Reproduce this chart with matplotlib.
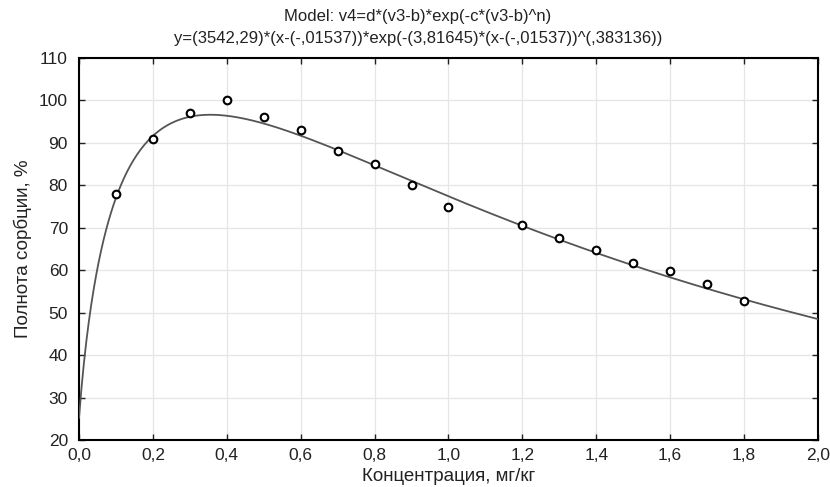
import numpy as np
import matplotlib
matplotlib.use("Agg")
import matplotlib.pyplot as plt

plt.rcParams['font.family'] = ['Liberation Sans', 'DejaVu Sans']

# Observed points
conc = [0.1, 0.2, 0.3, 0.4, 0.5, 0.6, 0.7, 0.8, 0.9, 1.0,
        1.2, 1.3, 1.4, 1.5, 1.6, 1.7, 1.8]
sorption = [78, 91, 97, 100, 96, 93, 88, 85, 80, 75,
            70.7, 67.7, 64.8, 61.6, 59.8, 56.7, 52.7]

# Fitted model parameters
d_par = 3542.29
b_par = -0.01537
c_par = 3.81645
n_par = 0.383136

x_ticks = [0.0, 0.2, 0.4, 0.6, 0.8, 1.0, 1.2, 1.4, 1.6, 1.8, 2.0]
x_tick_labels = ["0,0", "0,2", "0,4", "0,6", "0,8", "1,0", "1,2", "1,4", "1,6", "1,8", "2,0"]
y_ticks = [20, 30, 40, 50, 60, 70, 80, 90, 100, 110]

title_line1 = "Model: v4=d*(v3-b)*exp(-c*(v3-b)^n)"
title_line2 = "y=(3542,29)*(x-(-,01537))*exp(-(3,81645)*(x-(-,01537))^(,383136))"

fig = plt.figure(figsize=(8.3, 4.87), dpi=100)
ax = fig.add_axes([0.0952, 0.0965, 0.8903, 0.7845])

xs = np.linspace(0, 2.0, 600)
ys = d_par * (xs - b_par) * np.exp(-c_par * (xs - b_par) ** n_par)
ax.plot(xs, ys, color='#555555', lw=1.3, zorder=3)
ax.plot(conc, sorption, linestyle='none', marker='o', markersize=5.5,
        markerfacecolor='white', markeredgecolor='black', markeredgewidth=1.5, zorder=4)

ax.set_xlim(0, 2.0)
ax.set_ylim(20, 110)
ax.set_xticks(x_ticks)
ax.set_xticklabels(x_tick_labels)
ax.set_yticks(y_ticks)
ax.grid(True, color='#e6e6e6', lw=0.9, zorder=0)
ax.tick_params(direction='in', top=True, right=True, length=4, width=1,
               labelsize=12.5, colors='#222222')
ax.tick_params(axis='x', pad=6)
ax.tick_params(axis='y', pad=8)
for s in ax.spines.values():
    s.set_linewidth(1.5)
    s.set_color('black')

ax.set_xlabel("Концентрация, мг/кг", fontsize=13.5, labelpad=3, color='#222222')
ax.set_ylabel("Полнота сорбции, %", fontsize=13.5, labelpad=5, color='#222222')

fig.text(418 / 830, 1 - 17 / 487, title_line1, ha='center', va='center', fontsize=12, color='#222222')
fig.text(418 / 830, 1 - 39 / 487, title_line2, ha='center', va='center', fontsize=12, color='#222222')

fig.savefig("out.png", dpi=100)
